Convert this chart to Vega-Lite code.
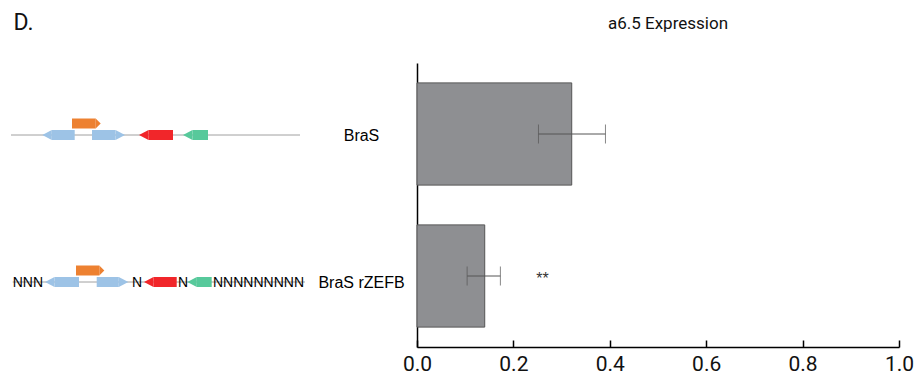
{
  "$schema": "https://vega.github.io/schema/vega-lite/v6.json",
  "width": 482,
  "height": 284,
  "autosize": "none",
  "padding": {"left": 417, "top": 63, "right": 20, "bottom": 27},
  "background": "white",
  "config": {"view": {"stroke": null}, "font": "Roboto"},
  "title": {"text": "a6.5 Expression", "frame": "group", "anchor": "middle", "fontSize": 17, "fontWeight": "normal", "font": "Roboto", "color": "#111", "baseline": "alphabetic", "offset": -35, "dx": 10},
  "datasets": {
    "expr": [
      {"construct": "BraS", "mean": 0.321, "lower": 0.252, "upper": 0.391, "sig": ""},
      {"construct": "BraS rZEFB", "mean": 0.1405, "lower": 0.104, "upper": 0.173, "sig": "**"}
    ],
    "backbone": [
      {"construct": "BraS", "from": 0, "to": 2890},
      {"construct": "BraS rZEFB", "from": 17, "to": 2940}
    ],
    "gaps": [
      {"construct": "BraS rZEFB", "from": 17, "seq": "NNN"},
      {"construct": "BraS rZEFB", "from": 1210, "seq": "N"},
      {"construct": "BraS rZEFB", "from": 1670, "seq": "N"},
      {"construct": "BraS rZEFB", "from": 2020, "seq": "NNNNNNNNN"}
    ],
    "genes": [
      {"construct": "BraS", "type": "A", "start": 313, "end": 637, "strand": "-", "lane": "main"},
      {"construct": "BraS", "type": "A", "start": 810, "end": 1140, "strand": "+", "lane": "main"},
      {"construct": "BraS", "type": "B", "start": 610, "end": 897, "strand": "+", "lane": "upper"},
      {"construct": "BraS", "type": "C", "start": 1280, "end": 1620, "strand": "-", "lane": "main"},
      {"construct": "BraS", "type": "D", "start": 1720, "end": 1970, "strand": "-", "lane": "main"},
      {"construct": "BraS rZEFB", "type": "A", "start": 340, "end": 680, "strand": "-", "lane": "main"},
      {"construct": "BraS rZEFB", "type": "A", "start": 857, "end": 1173, "strand": "+", "lane": "main"},
      {"construct": "BraS rZEFB", "type": "B", "start": 650, "end": 933, "strand": "+", "lane": "upper"},
      {"construct": "BraS rZEFB", "type": "C", "start": 1330, "end": 1657, "strand": "-", "lane": "main"},
      {"construct": "BraS rZEFB", "type": "D", "start": 1763, "end": 2007, "strand": "-", "lane": "main"}
    ]
  },
  "layer": [
    {
      "data": {"name": "expr"},
      "encoding": {
        "y": {
          "field": "construct", "type": "nominal", "sort": null,
          "scale": {"paddingInner": 0.28, "paddingOuter": 0.14},
          "axis": {"title": "D.", "titleAngle": 0, "titleAlign": "left", "titleBaseline": "alphabetic", "titleX": -404, "titleY": -34, "titleFont": "Roboto", "titleFontSize": 23, "titleFontWeight": "normal", "titleColor": "#111", "labels": false, "ticks": false, "domainColor": "black", "domainWidth": 1.5}
        }
      },
      "layer": [
        {
          "mark": {"type": "bar", "color": "#8e8f92", "stroke": "#555", "strokeWidth": 1},
          "encoding": {
            "x": {"field": "mean", "type": "quantitative", "scale": {"domain": [0, 1], "nice": false},
              "axis": {"title": null, "values": [0, 0.2, 0.4, 0.6, 0.8, 1], "format": ".1f", "grid": false, "domainColor": "black", "domainWidth": 1.5, "tickColor": "black", "tickWidth": 1.5, "tickSize": -7, "labelFontSize": 21, "labelFont": "Roboto", "labelColor": "#111", "labelPadding": 13, "labelFlush": false, "labelOverlap": false}}
          }
        },
        {
          "mark": {"type": "rule", "color": "#555", "strokeWidth": 1},
          "encoding": {"x": {"field": "lower", "type": "quantitative"}, "x2": {"field": "upper"}}
        },
        {
          "mark": {"type": "tick", "color": "#555", "thickness": 1, "size": 19},
          "encoding": {"x": {"field": "lower", "type": "quantitative"}}
        },
        {
          "mark": {"type": "tick", "color": "#555", "thickness": 1, "size": 19},
          "encoding": {"x": {"field": "upper", "type": "quantitative"}}
        },
        {
          "mark": {"type": "text", "align": "center", "baseline": "alphabetic", "dx": 42, "dy": 8, "fontSize": 16, "font": "Liberation Sans", "color": "#333"},
          "encoding": {"x": {"field": "upper", "type": "quantitative"}, "text": {"field": "sig"}}
        }
      ]
    },
    {
      "encoding": {
        "y": {
          "field": "construct", "type": "nominal", "sort": null,
          "scale": {"type": "point", "range": [72, 219], "padding": 0, "domain": ["BraS", "BraS rZEFB"]},
          "axis": {"orient": "left", "offset": 56, "title": null, "domain": false, "ticks": false, "labelAlign": "center", "labelBaseline": "middle", "labelPadding": 0, "labelFont": "Liberation Sans", "labelFontSize": 16, "labelColor": "black", "labelLimit": 0}
        }
      },
      "layer": [
        {
          "data": {"name": "backbone"},
          "mark": {"type": "rule", "color": "#a0a0a0", "strokeWidth": 1},
          "encoding": {
            "x": {"field": "from", "type": "quantitative", "scale": {"domain": [0, 2890], "range": [-406, -117], "nice": false, "zero": false}, "axis": null},
            "x2": {"field": "to"}
          }
        },
        {
          "data": {"name": "gaps"},
          "mark": {"type": "text", "align": "left", "baseline": "alphabetic", "dy": 4.7, "font": "Liberation Sans", "fontSize": 14, "color": "black"},
          "encoding": {"x": {"field": "from", "type": "quantitative", "scale": {"domain": [0, 2890]}, "axis": null}, "text": {"field": "seq"}}
        },
        {
          "data": {"name": "genes"},
          "transform": [{"filter": "datum.strand === '+' && datum.lane === 'main'"}],
          "mark": {"type": "rule", "strokeWidth": 10, "strokeCap": "butt", "x2Offset": -9.5},
          "encoding": {
            "x": {"field": "start", "type": "quantitative", "scale": {"domain": [0, 2890]}, "axis": null}, "x2": {"field": "end"},
            "color": {"field": "type", "type": "nominal", "scale": {"domain": ["A", "B", "C", "D"], "range": ["#9dc3e6", "#ed8131", "#f1262a", "#57c99b"]}, "legend": null}
          }
        },
        {
          "data": {"name": "genes"},
          "transform": [{"filter": "datum.strand === '-' && datum.lane === 'main'"}],
          "mark": {"type": "rule", "strokeWidth": 10, "strokeCap": "butt", "xOffset": 9.5},
          "encoding": {
            "x": {"field": "start", "type": "quantitative", "scale": {"domain": [0, 2890]}, "axis": null}, "x2": {"field": "end"},
            "color": {"field": "type", "type": "nominal", "legend": null}
          }
        },
        {
          "data": {"name": "genes"},
          "transform": [{"filter": "datum.lane === 'upper'"}],
          "mark": {"type": "rule", "strokeWidth": 10, "strokeCap": "butt", "x2Offset": -5, "yOffset": -11.5},
          "encoding": {
            "x": {"field": "start", "type": "quantitative", "scale": {"domain": [0, 2890]}, "axis": null}, "x2": {"field": "end"},
            "color": {"field": "type", "type": "nominal", "legend": null}
          }
        },
        {
          "data": {"name": "genes"},
          "transform": [{"filter": "datum.strand === '+' && datum.lane === 'main'"}],
          "mark": {"type": "point", "shape": "M-1.9,-1L0,0L-1.9,1Z", "size": 100, "filled": true, "opacity": 1, "strokeWidth": 0},
          "encoding": {
            "x": {"field": "end", "type": "quantitative", "scale": {"domain": [0, 2890]}, "axis": null},
            "color": {"field": "type", "type": "nominal", "legend": null}
          }
        },
        {
          "data": {"name": "genes"},
          "transform": [{"filter": "datum.strand === '-' && datum.lane === 'main'"}],
          "mark": {"type": "point", "shape": "M1.9,-1L0,0L1.9,1Z", "size": 100, "filled": true, "opacity": 1, "strokeWidth": 0},
          "encoding": {
            "x": {"field": "start", "type": "quantitative", "scale": {"domain": [0, 2890]}, "axis": null},
            "color": {"field": "type", "type": "nominal", "legend": null}
          }
        },
        {
          "data": {"name": "genes"},
          "transform": [{"filter": "datum.lane === 'upper'"}],
          "mark": {"type": "point", "shape": "M-1,-1L0,0L-1,1Z", "size": 100, "filled": true, "opacity": 1, "strokeWidth": 0, "yOffset": -11.5},
          "encoding": {
            "x": {"field": "end", "type": "quantitative", "scale": {"domain": [0, 2890]}, "axis": null},
            "color": {"field": "type", "type": "nominal", "legend": null}
          }
        }
      ]
    }
  ],
  "resolve": {"scale": {"x": "independent", "y": "independent"}}
}
